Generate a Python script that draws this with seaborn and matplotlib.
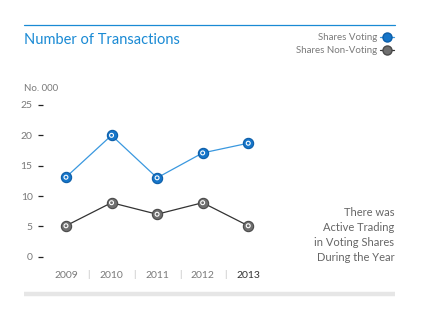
import matplotlib
matplotlib.use("Agg")
import matplotlib.pyplot as plt
from matplotlib.lines import Line2D
import seaborn as sns
import pandas as pd

years = ["2009", "2010", "2011", "2012", "2013"]
voting = [13.1, 20.0, 13.0, 17.1, 18.7]
non_voting = [5.1, 8.9, 7.0, 8.9, 5.1]
series_names = ["Shares Voting", "Shares Non-Voting"]
y_ticks = [0, 5, 10, 15, 20, 25]
title = "Number of Transactions"
unit_label = "No. 000"
note = "There was\nActive Trading\nin Voting Shares\nDuring the Year"

BLUE_LINE = "#3a98df"
BLUE_MARK = "#1575c9"
BLUE_EDGE = "#0d5ea8"
GREY_LINE = "#333333"
GREY_MARK = "#6f6f6f"
GREY_EDGE = "#4a4a4a"
TITLE_BLUE = "#1a8ad4"
TEXT_GREY = "#7a7a7a"

sns.set_theme(style="white")
plt.rcParams["font.family"] = ["Lato", "DejaVu Sans"]

df = pd.DataFrame({
    "x": list(range(len(years))) * 2,
    "value": voting + non_voting,
    "series": [series_names[0]] * len(years) + [series_names[1]] * len(years),
})

W, H = 422, 322
fig = plt.figure(figsize=(W / 100, H / 100), dpi=100)

def fx(px):
    return px / W

def fy(py):
    return 1 - py / H

ax_l, ax_r = 43, 271
ax_t, ax_b = 98.9, 262.8
ax = fig.add_axes([fx(ax_l), fy(ax_b), fx(ax_r - ax_l), (ax_b - ax_t) / H])

palette = {series_names[0]: BLUE_LINE, series_names[1]: GREY_LINE}
sns.lineplot(data=df, x="x", y="value", hue="series", palette=palette,
             linewidth=0.9, legend=False, ax=ax, zorder=2)
mark_pal = {series_names[0]: BLUE_MARK, series_names[1]: GREY_MARK}
for name, edge in [(series_names[0], BLUE_EDGE), (series_names[1], GREY_EDGE)]:
    sub = df[df["series"] == name]
    sns.scatterplot(data=sub, x="x", y="value", color=mark_pal[name], s=55,
                    edgecolor=edge, linewidth=0.8, legend=False, ax=ax, zorder=3)
    sns.scatterplot(data=sub, x="x", y="value", s=8, facecolor="none",
                    edgecolor="white", linewidth=0.8, legend=False, ax=ax, zorder=4)

ax.set_xlim(-0.504, 4.5)
ax.set_ylim(-1, 26)
for s in ax.spines.values():
    s.set_visible(False)
ax.set_xlabel("")
ax.set_ylabel("")
ax.set_yticks(y_ticks)
ax.set_yticklabels([str(v) for v in y_ticks])
ax.tick_params(axis="y", which="both", left=True, length=3.5, width=0.9,
               color="#222222", direction="out", pad=4.0, labelsize=7.5,
               labelcolor=TEXT_GREY)
ax.set_xticks(range(len(years)))
ax.set_xticklabels(years)
ax.tick_params(axis="x", length=0, pad=6, labelsize=7.5, labelcolor=TEXT_GREY)
ax.get_xticklabels()[-1].set_color("#333333")
ax.grid(False)

# separators between year labels
for i in range(len(years) - 1):
    ax.text(i + 0.5, -0.07, "|", transform=ax.get_xaxis_transform(),
            ha="center", va="center", fontsize=7, color="#bbbbbb")

fig.add_artist(Line2D([fx(24), fx(395)], [fy(25), fy(25)], color=TITLE_BLUE,
                      linewidth=0.9))
fig.add_artist(Line2D([fx(24), fx(395)], [fy(294), fy(294)], color="#e6e6e6",
                      linewidth=3.2, solid_capstyle="butt"))

fig.text(fx(24), fy(40), title, color=TITLE_BLUE, fontsize=10.5,
         ha="left", va="center")
fig.text(fx(24), fy(88), unit_label, color=TEXT_GREY, fontsize=7,
         ha="left", va="center")

fig.text(fx(394.5), fy(235), note, color="#666666", fontsize=8,
         ha="right", va="center", linespacing=1.45, multialignment="right")

handles = [
    Line2D([], [], color=BLUE_LINE, marker="o", markersize=6.5,
           markerfacecolor=BLUE_MARK, markeredgecolor=BLUE_EDGE, linewidth=0.9),
    Line2D([], [], color=GREY_LINE, marker="o", markersize=6.5,
           markerfacecolor=GREY_MARK, markeredgecolor=GREY_EDGE, linewidth=0.9),
]
leg = fig.legend(handles, series_names, loc="upper right",
                 bbox_to_anchor=(fx(394), fy(33)), frameon=False,
                 markerfirst=False, fontsize=7, handlelength=1.45,
                 handletextpad=0.3, labelspacing=0.45, borderpad=0,
                 borderaxespad=0)
for t in leg.get_texts():
    t.set_color(TEXT_GREY)

fig.savefig("out.png", dpi=100)
